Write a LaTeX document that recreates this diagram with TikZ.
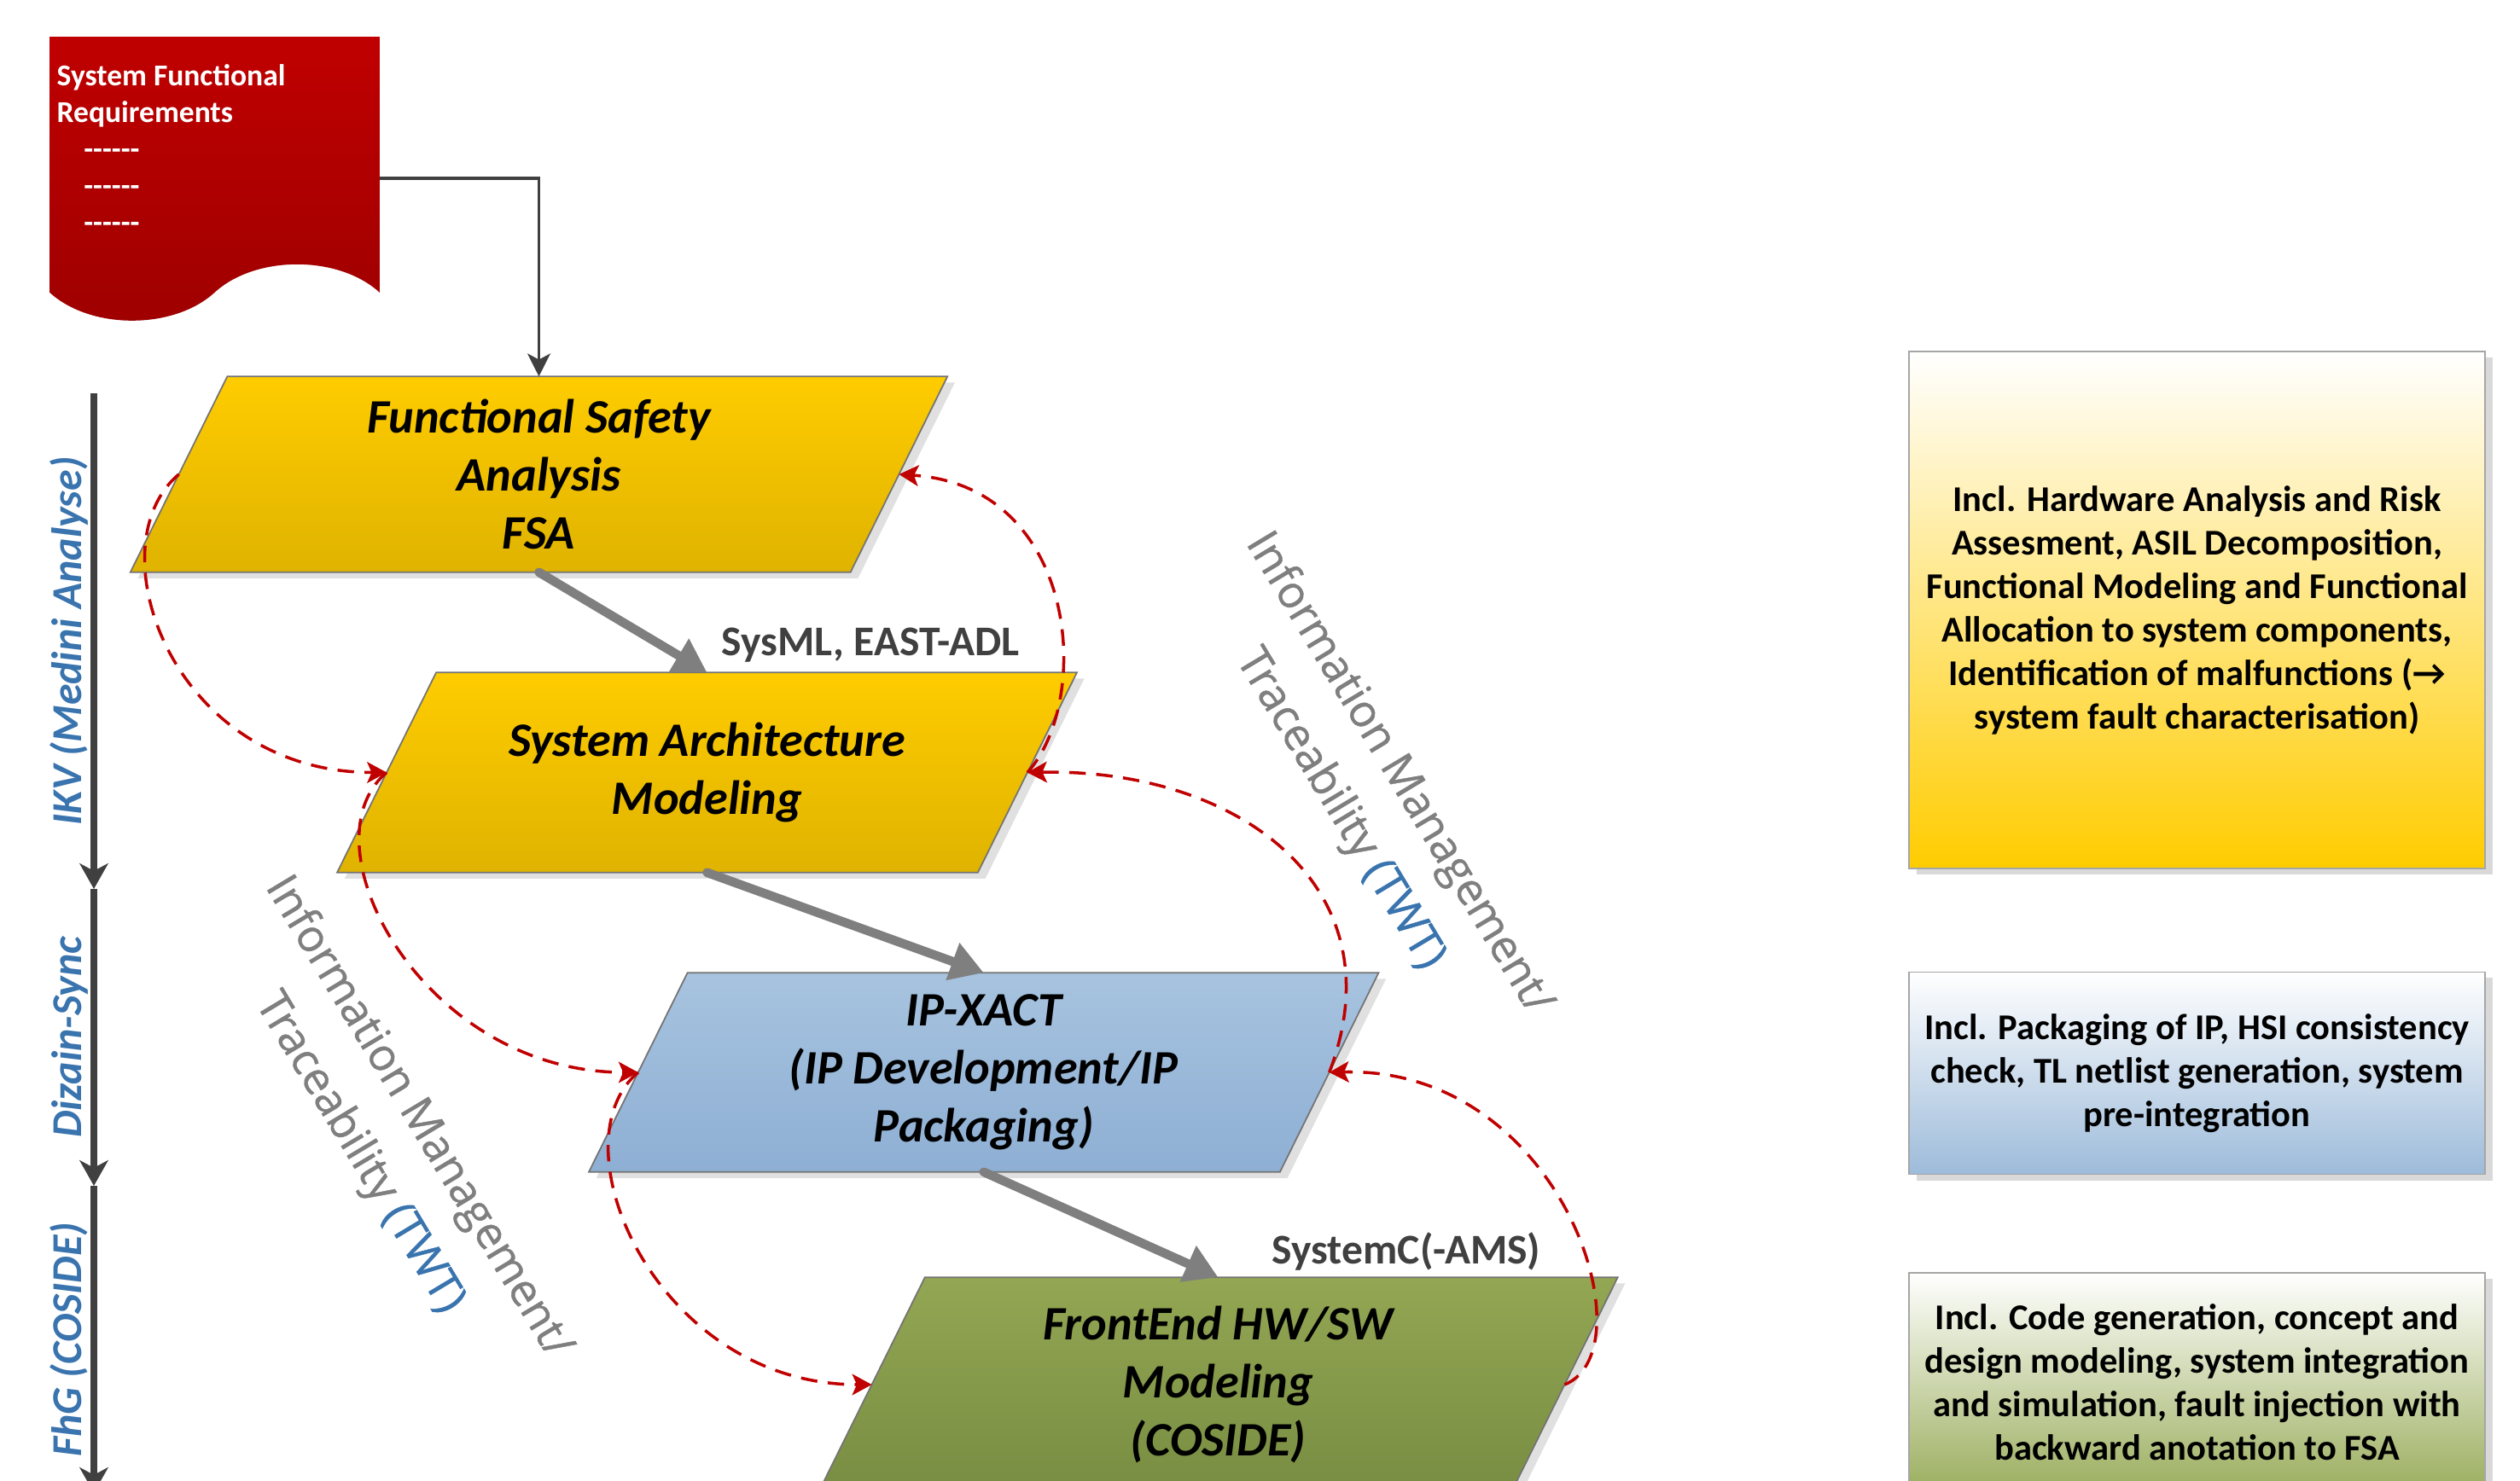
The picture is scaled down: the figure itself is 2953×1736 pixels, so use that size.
\documentclass[tikz,border=0pt]{standalone}
\usepackage{fontspec}
\setmainfont{Carlito}
\newfontfamily\tracefont{Open Sans}[RawFeature={embolden=0.8}]
\usetikzlibrary{arrows.meta,calc,backgrounds,shadows}
\definecolor{docred}{HTML}{C00000}
\definecolor{docreddark}{HTML}{9E0000}
\definecolor{gold}{HTML}{FFCC00}
\definecolor{golddark}{HTML}{DFB300}
\definecolor{ipblue}{HTML}{A7C3DF}
\definecolor{ipbluedark}{HTML}{8EAFD4}
\definecolor{olive}{HTML}{93A653}
\definecolor{olivedark}{HTML}{788D42}
\definecolor{notegreen}{HTML}{9BAE5E}
\definecolor{noteblue}{HTML}{9DBBDA}
\definecolor{toolblue}{HTML}{3A74AE}
\definecolor{darkline}{HTML}{404040}
\definecolor{flowgray}{HTML}{7F7F7F}
\definecolor{tracered}{HTML}{C00000}
\newcommand\dashrow{\mbox{-}\mbox{-}\mbox{-}\mbox{-}\mbox{-}\mbox{-}}
\newcommand\slantshape[2]{%
  \path[fill=black!12] let \p1=(#1.north west), \p2=(#1.south east), \n1={0.2475*(\y1-\y2)} in
    (\x1+\n1+2.5pt,\y1-2pt) -- (\x2+\n1+2.5pt,\y1-2pt) -- (\x2-\n1+2.5pt,\y2-2pt) -- (\x1-\n1+2.5pt,\y2-2pt) -- cycle;
  \path[#2, draw=black!55, line width=0.5pt] let \p1=(#1.north west), \p2=(#1.south east), \n1={0.2475*(\y1-\y2)} in
    (\x1+\n1,\y1) -- (\x2+\n1,\y1) -- (\x2-\n1,\y2) -- (\x1-\n1,\y2) -- cycle;}
\begin{document}
\begin{tikzpicture}[x=0.01cm, y=-0.01cm,
    stage/.style={inner sep=0pt, align=center, font=\fontsize{16}{19.4}\selectfont\bfseries\itshape},
    note/.style={draw=black!35, line width=0.5pt, minimum width=6.75cm, inner sep=0pt, align=center,
      font=\fontsize{12.1}{14.5}\selectfont\bfseries, top color=white,
      drop shadow={shadow xshift=2.5pt, shadow yshift=-2pt, fill=black!15, opacity=1}},
    doctext/.style={anchor=north west, inner sep=0pt, align=left, text=white,
      font=\fontsize{10.1}{12.2}\selectfont\bfseries},
    conn/.style={inner sep=0pt, text=darkline, font=\fontsize{14.1}{17}\selectfont\bfseries},
    tracelabel/.style={inner sep=0pt, align=center, text=flowgray, rotate=-59,
      font=\tracefont\fontsize{14.9}{22.8}\selectfont},
    owner/.style={midway, rotate=90, anchor=south, inner sep=1pt, text=toolblue,
      font=\fontsize{14.2}{17}\selectfont\bfseries\itshape},
    axis/.style={draw=darkline, line width=2pt, -{Stealth[length=8.5pt, width=9.5pt, inset=2.5pt]}},
    flow/.style={draw=flowgray, line width=3pt, line cap=round, -{Triangle[length=11pt, width=12.5pt]}},
    reqarrow/.style={draw=darkline, line width=1.1pt, -{Stealth[length=7.6pt, width=7.6pt, inset=2pt]}},
    trace/.style={draw=tracered, line width=1pt, dash pattern=on 5.5pt off 3.5pt,
      -{Stealth[length=6.5pt, width=7pt, inset=1.5pt]}}]
  \useasboundingbox (0,0) rectangle (2953,1736);

  \node[minimum width=3.85cm, minimum height=3.30cm, inner sep=0pt] (reqs) at (251.5,209) {};
  \node[doctext] (reqstext) at (66,75) {System Functional\\Requirements\\\hspace*{9pt}\dashrow\\\hspace*{9pt}\dashrow\\\hspace*{9pt}\dashrow};

  \node[stage, minimum width=8.42cm, minimum height=2.28cm] (fsa) at (631.5,556) {Functional Safety\\Analysis\\FSA};
  \node[stage, minimum width=7.49cm, minimum height=2.33cm] (sam) at (828.5,905.5) {System Architecture\\Modeling};
  \node[stage, minimum width=8.08cm, minimum height=2.32cm] (ip) at (1152.75,1257) {IP-XACT\\(IP Development/IP\\Packaging)};
  \node[stage, minimum width=8.10cm, minimum height=2.50cm] (fe) at (1427.5,1623) {FrontEnd HW/SW\\Modeling\\(COSIDE)};

  \begin{scope}[on background layer]
    \path[fill=black!15, xshift=2.5pt, yshift=-2pt] (reqs.north west) -- (reqs.north east) -- ($(reqs.south east)+(0,-32)$)
      .. controls +(-48,-44) and +(48,-44) .. ($(reqs.south)+(0,-32)$)
      .. controls +(-48,44) and +(48,44) .. ($(reqs.south west)+(0,-32)$) -- cycle;
    \path[top color=docred, bottom color=docreddark] (reqs.north west) -- (reqs.north east) -- ($(reqs.south east)+(0,-32)$)
      .. controls +(-48,-44) and +(48,-44) .. ($(reqs.south)+(0,-32)$)
      .. controls +(-48,44) and +(48,44) .. ($(reqs.south west)+(0,-32)$) -- cycle;
    \slantshape{fsa}{top color=gold, bottom color=golddark}
    \slantshape{sam}{top color=gold, bottom color=golddark}
    \slantshape{ip}{top color=ipblue, bottom color=ipbluedark}
    \slantshape{fe}{top color=olive, bottom color=olivedark}
  \end{scope}

  \draw[reqarrow] (reqs.east) -| (fsa.north);
  \draw[flow] (fsa.south) -- (sam.north);
  \draw[flow] (sam.south) -- (ip.north);
  \draw[flow] (ip.south) -- (fe.north);
  \node[conn] (sysml) at (1020,756) {SysML, EAST-ADL};
  \node[conn] (systemc) at (1648,1467) {SystemC(-AMS)};

  \draw[trace] (fsa.west) .. controls +(-100,84) and +(-252,0) .. (sam.west);
  \draw[trace] (sam.west) .. controls +(-100,84) and +(-252,0) .. (ip.west);
  \draw[trace] (ip.west) .. controls +(-100,84) and +(-252,0) .. (fe.west);
  \draw[trace] (sam.east) .. controls +(77,-85) and +(210,14) .. (fsa.east);
  \draw[trace] (ip.east) .. controls +(83,-217) and +(247,-5) .. (sam.east);
  \draw[trace] (fe.east) .. controls +(100,-40) and +(273,-7) .. (ip.east);

  \node[tracelabel] (tracesleft) at (455,1331) {Information Management/\\Traceability {\color{toolblue}(TWT)}};
  \node[tracelabel] (tracesright) at (1604,928) {Information Management/\\Traceability {\color{toolblue}(TWT)}};

  \coordinate (ax0) at (110,461);
  \coordinate (ax1) at (110,1042);
  \coordinate (ax2) at (110,1390);
  \coordinate (ax3) at (110,1750);
  \draw[axis] (ax0) -- node[owner] (ikv) {IKV (Medini Analyse)} (ax1);
  \draw[axis] (ax1) -- node[owner] (dizain) {Dizain-Sync} (ax2);
  \draw[axis] (ax2) -- node[owner] (fhg) {FhG (COSIDE)} (ax3);

  \node[note, bottom color=gold, minimum height=6.06cm] (fsanote) at (2574.5,715) {Incl. Hardware Analysis and Risk\\Assesment, ASIL Decomposition,\\Functional Modeling and Functional\\Allocation to system components,\\Identification of malfunctions (→\\system fault characterisation)};
  \node[note, bottom color=noteblue, minimum height=2.37cm] (ipnote) at (2574.5,1258) {Incl. Packaging of IP, HSI consistency\\check, TL netlist generation, system\\pre-integration};
  \node[note, bottom color=notegreen, minimum height=2.56cm] (fenote) at (2574.5,1620) {Incl. Code generation, concept and\\design modeling, system integration\\and simulation, fault injection with\\backward anotation to FSA};
\end{tikzpicture}
\end{document}
